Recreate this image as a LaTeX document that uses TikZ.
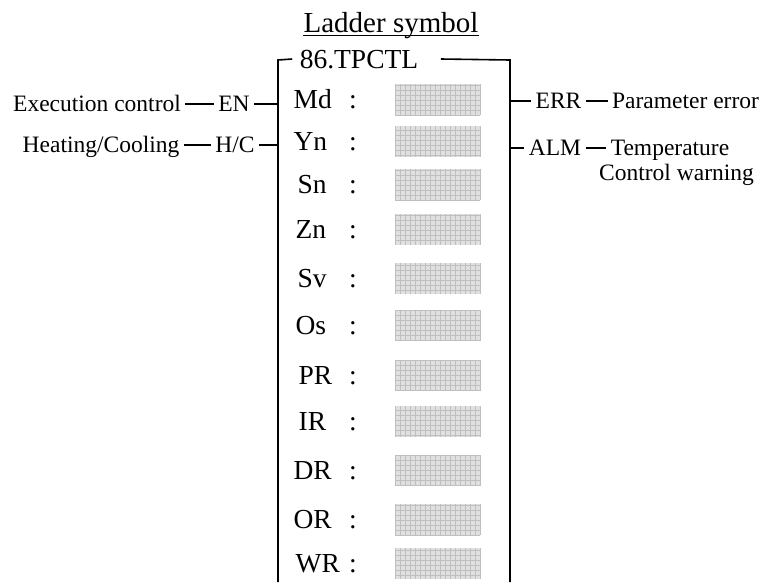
\documentclass[tikz,border=0pt]{standalone}
\usepackage{fontspec}
\setmainfont{Liberation Serif}
\usetikzlibrary{positioning}

\begin{document}
\begin{tikzpicture}[x=1pt,y=-1pt,line width=1.2pt,
  side/.style={font=\fontsize{23.5}{28}\selectfont,inner xsep=4pt,inner ysep=0pt,text height=15.5pt,text depth=0pt},
  parm/.style={font=\fontsize{27.5}{32}\selectfont,inner sep=0pt,text height=18pt,text depth=0pt},
  frame/.style={line width=1.6pt},
  cell/.style={fill=gray!24},
  cellgrid/.style={draw=gray!50,line width=0.5pt}]
\useasboundingbox (0,0) rectangle (770,582);

% block outline
\coordinate (tl) at (278,60);
\coordinate (tr) at (510,60);
\coordinate (bl) at (278,582);
\coordinate (br) at (510,582);

\node[inner sep=0pt,font=\fontsize{29}{34}\selectfont,anchor=base](ttl) at (391,32) {Ladder symbol};
\draw[line width=1pt]([yshift=-3pt]ttl.base west) -- ([yshift=-3pt]ttl.base east);
\node[parm,inner xsep=7pt](fn) at (359,59) {86.TPCTL};

\draw[frame](fn.west) -- (tl) -- (bl);
\draw[frame]([xshift=15pt]fn.east) -- (tr) -- (br);

% inputs
\node[side](exec) at (97,104) {Execution control};
\node[side](en) at (234,104) {EN};
\node[side](heat) at (101,145) {Heating/Cooling};
\node[side](hc) at (235,145) {H/C};

\draw(exec) -- (en);
\draw(en) -- (en -| tl);
\draw(heat) -- (hc);
\draw(hc) -- (hc -| tl);

% outputs
\node[side](err) at (558.5,101) {ERR};
\node[side](perr) at (685.5,101) {Parameter error};
\node[side](alm) at (555,148) {ALM};
\node[side](temp) at (670,148) {Temperature};
\node[side](ctrlw) at (676.5,173) {Control warning};

\draw(err -| tr) -- (err);
\draw(err) -- (perr);
\draw(alm -| tr) -- (alm);
\draw(alm) -- (temp);

% parameters
\foreach \lbl/\yy/\xx in {Md/99.5/293, Yn/141/293, Sn/184.5/297, Zn/229/295, Sv/278.5/297,
  Os/325.5/295, PR/375/298, IR/421.5/298, DR/470.5/293, OR/519.5/293, WR/563.5/295}{
  \node[parm,anchor=west](p-\lbl) at (\xx,\yy) {\lbl};
  \node[parm](c-\lbl) at (353,\yy) {:};
  \fill[cell](395,\yy-15.5) rectangle (480,\yy+15.5);
  \draw[cellgrid,step=5pt](395,\yy-15.5) grid (480,\yy+15.5);
}
\end{tikzpicture}
\end{document}
